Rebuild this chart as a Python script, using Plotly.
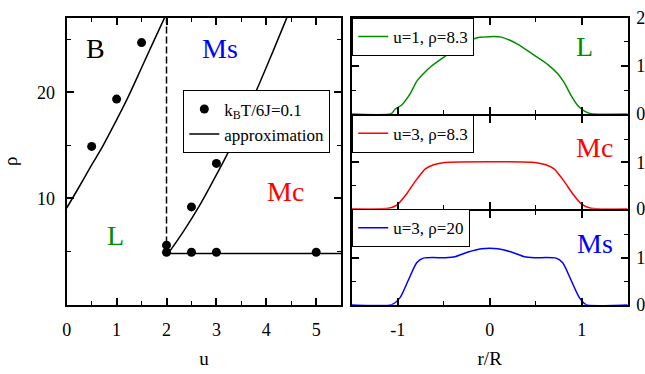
import plotly.graph_objects as go

# ---------------- data: phase diagram (left) ----------------
pts_u = [0.5, 1.0, 1.5, 2.0, 2.0, 2.5, 2.5, 3.0, 3.0, 5.0]
pts_rho = [14.9, 19.35, 24.67, 5.6, 4.93, 9.2, 4.93, 13.3, 4.93, 4.93]

curve1_u = [0.0, 0.25, 0.5, 0.72, 1.0, 1.21, 1.5, 1.73, 1.96]
curve1_rho = [9.1, 11.1, 13.15, 14.9, 17.4, 19.35, 22.3, 24.67, 27.0]

curve2_u = [2.04, 2.34, 2.67, 2.94, 3.2, 3.4, 3.86, 4.13, 4.41]
curve2_rho = [4.86, 6.9, 9.4, 11.7, 14.0, 16.0, 20.8, 23.8, 27.0]

hline_u = [2.0, 5.5]
hline_rho = [4.81, 4.81]

dash_u = [2.0, 2.0]
dash_rho = [4.81, 27.0]

u_ticks = [0, 1, 2, 3, 4, 5]
rho_ticks = [10, 20]

# ---------------- data: density profiles (right) ----------------
L_x = [-1.5, -1.07, -1.03, -0.957, -0.866, -0.794, -0.722, -0.632, -0.487, -0.307, -0.126, 0.0,
       0.126, 0.307, 0.487, 0.632, 0.74, 0.812, 0.884, 0.957, 1.03, 1.10, 1.5]
L_y = [0.0, 0.01, 0.10, 0.19, 0.42, 0.68, 0.84, 1.0, 1.2, 1.45, 1.59, 1.61,
       1.60, 1.45, 1.22, 1.03, 0.84, 0.65, 0.39, 0.18, 0.06, 0.01, 0.0]

Mc_x = [-1.5, -1.10, -1.01, -0.90, -0.81, -0.70, -0.61, -0.49, 0.49, 0.61, 0.70, 0.81, 0.90, 1.0, 1.10, 1.5]
Mc_y = [0.0, 0.01, 0.08, 0.33, 0.59, 0.86, 0.95, 1.0, 1.0, 0.95, 0.86, 0.59, 0.33, 0.1, 0.01, 0.0]

Ms_x = [-1.5, -1.065, -0.975, -0.885, -0.794, -0.722, -0.487, -0.379, -0.235, -0.09, 0.0,
        0.09, 0.235, 0.379, 0.487, 0.722, 0.794, 0.885, 0.975, 1.05, 1.5]
Ms_y = [0.0, 0.0, 0.15, 0.52, 0.89, 0.99, 1.0, 1.02, 1.12, 1.19, 1.20,
        1.19, 1.12, 1.02, 1.0, 0.99, 0.89, 0.52, 0.15, 0.0, 0.0]

r_ticks = [-1, 0, 1]
n_ticks_top = [0, 1, 2]
n_ticks_low = [0, 1]

GREEN = "rgb(0,140,0)"
RED = "rgb(255,0,0)"
BLUE = "rgb(0,0,255)"
FONT = "Liberation Serif, 'Times New Roman', Times, serif"

W, H = 645, 374
def px_x(a, b):
    return [a / W, b / W]
def px_y(top, bottom):
    return [1 - bottom / H, 1 - top / H]

fig = go.Figure()

# left panel
fig.add_trace(go.Scatter(x=pts_u, y=pts_rho, mode="markers", name="k<sub>B</sub>T/6J=0.1",
                         marker=dict(color="black", size=9), xaxis="x", yaxis="y", legend="legend"))
fig.add_trace(go.Scatter(x=curve1_u, y=curve1_rho, mode="lines", name="approximation",
                         line=dict(color="black", width=1.5, shape="spline"), xaxis="x", yaxis="y",
                         legend="legend"))
fig.add_trace(go.Scatter(x=curve2_u, y=curve2_rho, mode="lines", showlegend=False,
                         line=dict(color="black", width=1.5, shape="spline"), xaxis="x", yaxis="y"))
fig.add_trace(go.Scatter(x=hline_u, y=hline_rho, mode="lines", showlegend=False,
                         line=dict(color="black", width=1.5), xaxis="x", yaxis="y"))
fig.add_trace(go.Scatter(x=dash_u, y=dash_rho, mode="lines", showlegend=False,
                         line=dict(color="black", width=1.5, dash="7px,3px"), xaxis="x", yaxis="y"))

# right panels
fig.add_trace(go.Scatter(x=L_x, y=L_y, mode="lines", name="u=1, ρ=8.3",
                         line=dict(color=GREEN, width=1.5, shape="spline", smoothing=0.6),
                         xaxis="x2", yaxis="y2", legend="legend2"))
fig.add_trace(go.Scatter(x=Mc_x, y=Mc_y, mode="lines", name="u=3, ρ=8.3",
                         line=dict(color=RED, width=1.5, shape="spline", smoothing=0.6),
                         xaxis="x3", yaxis="y3", legend="legend3"))
fig.add_trace(go.Scatter(x=Ms_x, y=Ms_y, mode="lines", name="u=3, ρ=20",
                         line=dict(color=BLUE, width=1.5, shape="spline", smoothing=0.6),
                         xaxis="x4", yaxis="y4", legend="legend4"))

TICKFONT = dict(family=FONT, size=18, color="black")
axis_common = dict(showline=True, linecolor="black", linewidth=2, mirror="ticks", ticks="inside",
                   ticklen=7, tickwidth=1.5, tickcolor="black", showgrid=False, zeroline=False,
                   tickfont=TICKFONT, ticklabeloverflow="allow")
minor_x = dict(ticks="inside", ticklen=4, tickwidth=1, tickcolor="black")

left_dom_x = px_x(62.3, 339.3)
left_dom_y = px_y(8.3, 311.3)
right_dom_x = px_x(350, 628.5)
p_top = px_y(8.3, 110.0)
p_mid = px_y(112.0, 210.0)
p_bot = px_y(212.0, 311.3)

LEGFONT = dict(family=FONT, size=17, color="black")
fig.update_layout(
    width=W, height=H, margin=dict(l=0, r=0, t=0, b=0),
    paper_bgcolor="white", plot_bgcolor="white",
    font=dict(family=FONT, size=18, color="black"),
    xaxis=dict(domain=left_dom_x, range=[0, 5.5], anchor="y", tickvals=u_ticks,
               minor=dict(tickvals=[0.5, 1.5, 2.5, 3.5, 4.5], **minor_x), ticklabelstandoff=8,
               title=dict(text="u", font=dict(family=FONT, size=19), standoff=12), **axis_common),
    yaxis=dict(domain=left_dom_y, range=[0, 27], anchor="x", tickvals=rho_ticks,
               minor=dict(tickvals=[5, 15, 25], **minor_x), ticklabelstandoff=6,
               title=dict(text="ρ", font=dict(family=FONT, size=19), standoff=18), **axis_common),
    xaxis2=dict(domain=right_dom_x, range=[-1.5, 1.5], anchor="y2", tickvals=r_ticks, showticklabels=False,
                minor=dict(tickvals=[-0.5, 0.5], **minor_x), **axis_common),
    yaxis2=dict(domain=p_top, range=[0, 2], anchor="x2", side="right", tickvals=n_ticks_top,
                minor=dict(tickvals=[0.5, 1.5], **minor_x), ticklabelstandoff=3, **axis_common),
    xaxis3=dict(domain=right_dom_x, range=[-1.5, 1.5], anchor="y3", tickvals=r_ticks, showticklabels=False,
                minor=dict(tickvals=[-0.5, 0.5], **minor_x), **axis_common),
    yaxis3=dict(domain=p_mid, range=[0, 2], anchor="x3", side="right", tickvals=n_ticks_low,
                ticklabelstandoff=3,
                minor=dict(tickvals=[0.5, 1.5], **minor_x), **axis_common),
    xaxis4=dict(domain=right_dom_x, range=[-1.5, 1.5], anchor="y4", tickvals=r_ticks,
                ticktext=["-1", "0", "1"], ticklabelstandoff=8,
                minor=dict(tickvals=[-0.5, 0.5], **minor_x),
                title=dict(text="r/R", font=dict(family=FONT, size=19), standoff=12), **axis_common),
    yaxis4=dict(domain=p_bot, range=[0, 2], anchor="x4", side="right", tickvals=n_ticks_low,
                ticklabelstandoff=3,
                minor=dict(tickvals=[0.5, 1.5], **minor_x), **axis_common),
    legend=dict(x=180 / W, y=1 - 85 / H, xanchor="left", yanchor="top", bgcolor="white",
                bordercolor="black", borderwidth=1, itemwidth=30, tracegroupgap=0,
                font=LEGFONT),
    legend2=dict(x=350.5 / W, y=1 - 8.5 / H, xanchor="left", yanchor="top", bgcolor="white",
                 bordercolor="black", borderwidth=1, itemwidth=30, font=LEGFONT),
    legend3=dict(x=350.5 / W, y=1 - 110.5 / H, xanchor="left", yanchor="top", bgcolor="white",
                 bordercolor="black", borderwidth=1, itemwidth=30, font=LEGFONT),
    legend4=dict(x=350.5 / W, y=1 - 210.5 / H, xanchor="left", yanchor="top", bgcolor="white",
                 bordercolor="black", borderwidth=1, itemwidth=30, font=LEGFONT),
)

labels = [
    ("x", "y", 0.58, 24.1, "B", "black"),
    ("x", "y", 3.07, 24.1, "Ms", BLUE),
    ("x", "y", 0.97, 6.5, "L", GREEN),
    ("x", "y", 4.39, 10.65, "Mc", RED),
    ("x2", "y2", 1.03, 1.4, "L", GREEN),
    ("x3", "y3", 1.14, 1.32, "Mc", RED),
    ("x4", "y4", 1.14, 1.3, "Ms", BLUE),
]
for xr, yr, xv, yv, t, c in labels:
    fig.add_annotation(xref=xr, yref=yr, x=xv, y=yv, text=t, showarrow=False,
                       font=dict(family=FONT, size=28, color=c))

fig.write_html("out.html")
